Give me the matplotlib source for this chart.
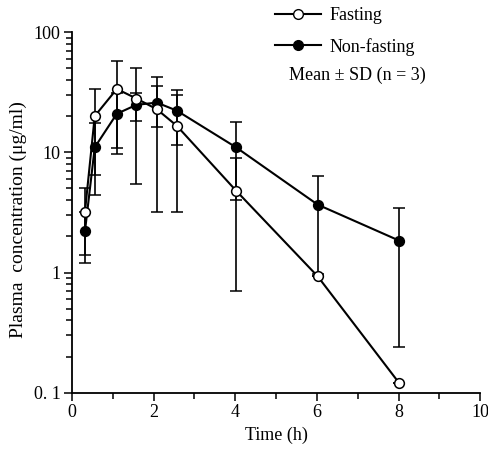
import matplotlib
matplotlib.use("Agg")
import matplotlib.pyplot as plt
from matplotlib.lines import Line2D
from matplotlib.ticker import LogLocator, FixedLocator, NullFormatter, FixedFormatter, MultipleLocator

plt.rcParams['font.family'] = ['Liberation Serif', 'DejaVu Serif']

# Sampling times (h)
time_fast = [0.32, 0.56, 1.1, 1.58, 2.08, 2.57, 4.02, 6.02, 8.02]
time_nonfast = [0.32, 0.56, 1.1, 1.58, 2.08, 2.57, 4.02, 6.02, 8.02]

# Mean plasma concentrations (ug/ml)
fasting_mean = [3.2, 20.0, 33.6, 28.0, 22.8, 16.6, 4.8, 0.93, 0.12]
fasting_sd = [1.8, 13.5, 24.0, 22.5, 19.6, 13.4, 4.1, 0.0, 0.0]
nonfasting_mean = [2.2, 11.0, 20.9, 24.8, 25.9, 22.2, 11.0, 3.67, 1.84]
nonfasting_sd = [1.0, 6.6, 10.0, 6.5, 9.6, 10.8, 7.0, 2.7, 1.6]

y_ticks = [0.1, 1, 10, 100]
y_tick_labels = ["0. 1", "1", "10", "100"]
x_ticks = [0, 2, 4, 6, 8, 10]

fig = plt.figure(figsize=(4.89, 4.51), dpi=100)
ax = fig.add_axes([0.147, 0.129, 0.835, 0.80])

lw = 1.5
ms = 7
common = dict(color='black', linewidth=lw, elinewidth=1.2, capsize=4.5,
              capthick=1.2, markersize=ms, markeredgewidth=1.1)

ax.errorbar(time_nonfast, nonfasting_mean, yerr=nonfasting_sd, fmt='-o',
            markerfacecolor='black', markeredgecolor='black', zorder=3, **common)
ax.errorbar(time_fast, fasting_mean, yerr=fasting_sd, fmt='-o',
            markerfacecolor='white', markeredgecolor='black', zorder=4, **common)

ax.set_yscale('log')
ax.set_ylim(0.1, 100)
ax.set_xlim(0, 10)

ax.yaxis.set_major_locator(FixedLocator(y_ticks))
ax.yaxis.set_major_formatter(FixedFormatter(y_tick_labels))
ax.yaxis.set_minor_locator(LogLocator(base=10, subs=range(2, 10)))
ax.yaxis.set_minor_formatter(NullFormatter())
ax.xaxis.set_major_locator(FixedLocator(x_ticks))
ax.xaxis.set_minor_locator(MultipleLocator(1))

ax.tick_params(which='major', direction='out', length=6, width=1.1, labelsize=13, pad=2)
ax.tick_params(which='minor', direction='out', length=4, width=1.1)

for side in ('top', 'right'):
    ax.spines[side].set_visible(False)
for side in ('left', 'bottom'):
    ax.spines[side].set_linewidth(1.3)

ax.set_xlabel("Time (h)", fontsize=13, labelpad=4)
ax.set_ylabel("Plasma  concentration (\u03bcg/ml)", fontsize=14, labelpad=4)
ax.yaxis.set_label_coords(-0.11, 0.48)

handles = [
    Line2D([], [], color='black', linewidth=lw, marker='o', markersize=ms,
           markerfacecolor='white', markeredgecolor='black'),
    Line2D([], [], color='black', linewidth=lw, marker='o', markersize=ms,
           markerfacecolor='black', markeredgecolor='black'),
]
fig.legend(handles, ["Fasting", "Non-fasting"], loc='upper left',
           bbox_to_anchor=(0.53, 1.02), frameon=False, fontsize=13,
           handlelength=2.5, handletextpad=0.5, labelspacing=0.75)
fig.text(0.59, 0.833, "Mean \u00b1 SD (n = 3)", fontsize=13, ha='left', va='center')

fig.savefig("out.png", dpi=100)
